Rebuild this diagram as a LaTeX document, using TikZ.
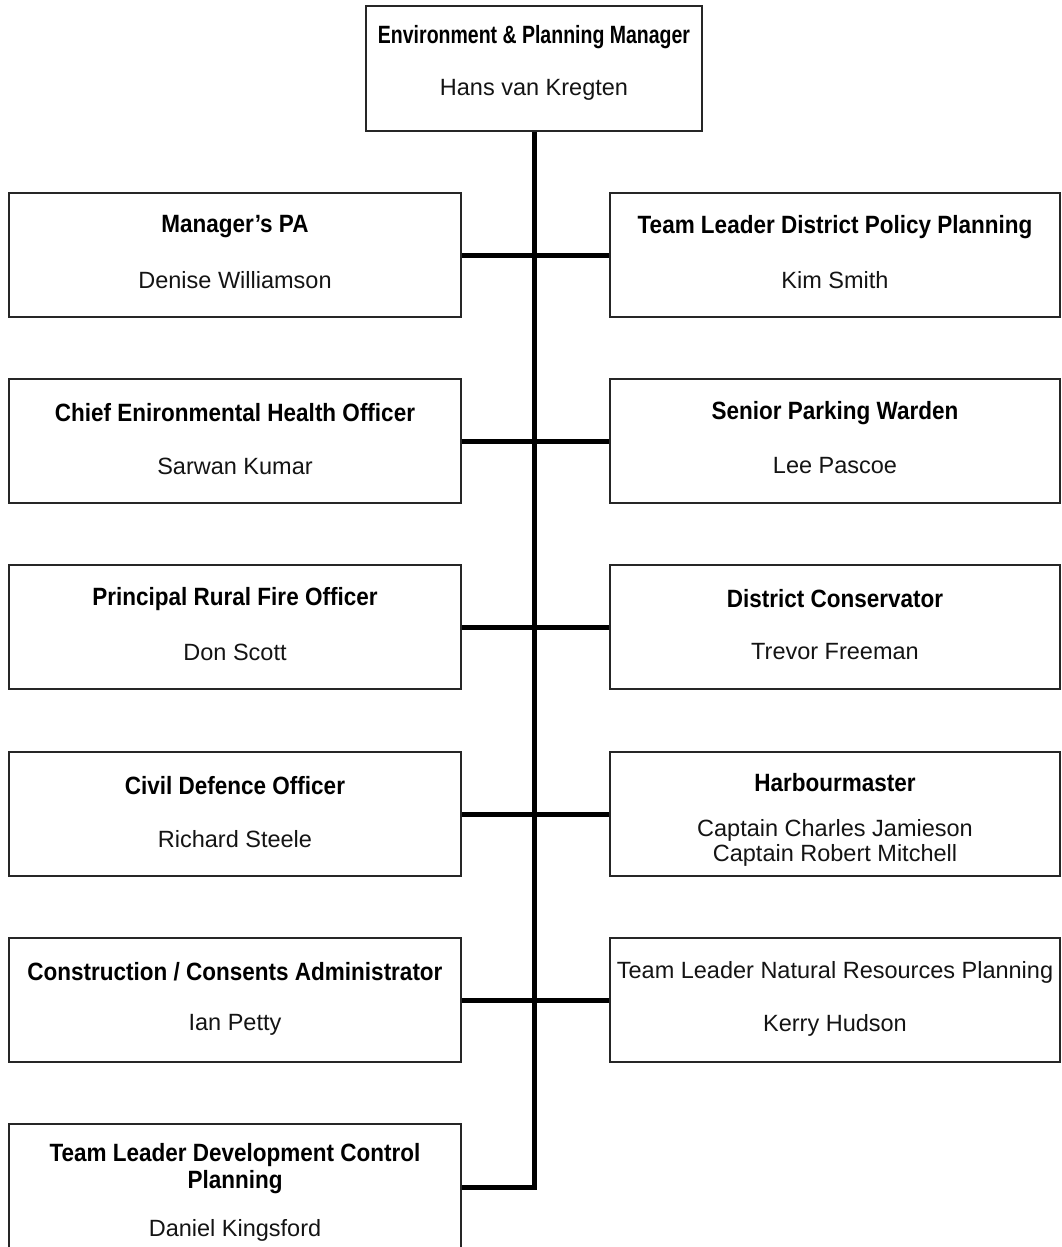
\documentclass[tikz,border=0pt]{standalone}
\usepackage{fontspec}
\setmainfont{Liberation Sans}
\newfontfamily\ttlfont{Liberation Sans}[FakeStretch=0.9]
\newfontfamily\topttlfont{Liberation Sans}[FakeStretch=0.78]
\begin{document}
\begin{tikzpicture}[x=1pt,y=-1pt,
  orgbox/.style={draw=black!85,line width=1.5pt,fill=white,inner sep=0pt,minimum height=124pt},
  ttl/.style={font=\ttlfont\bfseries\fontsize{25}{27}\selectfont,text=black,inner sep=0pt,align=center},
  topttl/.style={font=\topttlfont\bfseries\fontsize{25}{27}\selectfont,text=black,inner sep=0pt,align=center},
  nm/.style={font=\fontsize{23.5}{24.5}\selectfont,text=black!92,inner sep=0pt,align=center},
  conn/.style={line width=5pt,black}]
\useasboundingbox (0,0) rectangle (1062,1247);
\clip (0,0) rectangle (1062,1247);
\newcommand{\obox}[6]{%
  \node[orgbox,minimum width=#4] (#1) at (#2,#3+62) {};
  \node[ttl] (#1t) at (#2,#3+34) {#5};
  \node[nm] (#1n) at (#2,#3+87) {#6};
}
% top
\node[orgbox,minimum width=336pt,minimum height=125pt] (top) at (534,68.5) {};
\node[topttl] (topt) at (534,37) {Environment \& Planning Manager};
\node[nm] (topn) at (534,90) {Hans van Kregten};
% left column
\obox{la}{235}{193}{452pt}{Manager’s PA}{Denise Williamson}
\obox{lb}{235}{379}{452pt}{Chief Enironmental Health Officer}{Sarwan Kumar}
\obox{lc}{235}{565}{452pt}{Principal Rural Fire Officer}{Don Scott}
\obox{ld}{235}{752}{452pt}{Civil Defence Officer}{Richard Steele}
\obox{le}{235}{938}{452pt}{Construction / Consents Administrator}{Ian Petty}
% right column
\obox{ra}{835}{193}{450pt}{Team Leader District Policy Planning}{Kim Smith}
\obox{rb}{835}{379}{450pt}{Senior Parking Warden}{Lee Pascoe}
\obox{rc}{835}{565}{450pt}{District Conservator}{Trevor Freeman}
% harbourmaster
\node[orgbox,minimum width=450pt] (rd) at (835,814) {};
\node[ttl] (rdt) at (835,783) {Harbourmaster};
\node[nm] (rdn) at (835,843) {Captain Charles Jamieson\\Captain Robert Mitchell};
% natural resources
\node[orgbox,minimum width=450pt] (re) at (835,1000) {};
\node[nm] (ret) at (835,972) {Team Leader Natural Resources Planning};
\node[nm] (ren) at (835,1025) {Kerry Hudson};
% bottom box
\node[orgbox,minimum width=452pt,minimum height=126pt] (lf) at (235,1187) {};
\node[ttl] (lft) at (235,1168.5) {Team Leader Development Control\\Planning};
\node[nm] (lfn) at (235,1230) {Daniel Kingsford};
% connectors
\draw[conn] (top.south) |- (lf.east);
\draw[conn] (la.east) -- (ra.west);
\draw[conn] (lb.east) -- (rb.west);
\draw[conn] (lc.east) -- (rc.west);
\draw[conn] (ld.east) -- (rd.west);
\draw[conn] (le.east) -- (re.west);
\end{tikzpicture}
\end{document}
